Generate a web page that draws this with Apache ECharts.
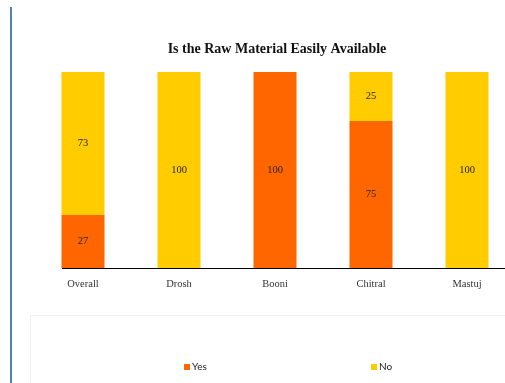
<!DOCTYPE html>
<html>
<head>
<meta charset="utf-8">
<script src="https://cdn.jsdelivr.net/npm/echarts@6/dist/echarts.min.js"></script>
<style>html,body{margin:0;padding:0;background:#fff;}#c{width:505px;height:383px;}</style>
</head>
<body>
<div id="c"></div>
<script>
const categories = ['Overall', 'Drosh', 'Booni', 'Chitral', 'Mastuj'];
const yesValues = [27, 0, 100, 75, 0];
const noValues = [73, 100, 0, 25, 100];
const titleText = 'Is the Raw Material Easily Available';

const chart = echarts.init(document.getElementById('c'), null, {renderer: 'canvas'});
const serif = '"Liberation Serif", "DejaVu Serif", serif';
const lbl = {
  show: true, position: 'inside', color: '#222', fontFamily: serif, fontSize: 10.5,
  formatter: p => p.value > 0 ? p.value : ''
};
chart.setOption({
  animation: false,
  backgroundColor: '#fff',
  title: {
    text: titleText, left: 272, textAlign: 'center', top: 37,
    textStyle: {fontFamily: serif, fontSize: 14, fontWeight: 'bold', color: '#111'}
  },
  graphic: [
    {type: 'rect', shape: {x: 30.5, y: 315.5, width: 490, height: 80}, style: {fill: '#fff', stroke: '#f0f0f0', lineWidth: 1}, z: -1},
    {type: 'line', shape: {x1: 11, y1: 7, x2: 11, y2: 383}, style: {stroke: '#4f81bd', lineWidth: 2}},
    {type: 'line', shape: {x1: 62, y1: 268.5, x2: 505, y2: 268.5}, style: {stroke: '#000', lineWidth: 1.2}}
  ],
  legend: [
    {data: ['Yes'], left: 179, top: 357, itemWidth: 6, itemHeight: 6, icon: 'rect',
     textStyle: {fontFamily: 'Lato, "Liberation Sans", sans-serif', fontSize: 10, color: '#222', padding: [0, 0, 0, -3]}},
    {data: ['No'], left: 366, top: 357, itemWidth: 6, itemHeight: 6, icon: 'rect',
     textStyle: {fontFamily: 'Lato, "Liberation Sans", sans-serif', fontSize: 10, color: '#222', padding: [0, 0, 0, -3]}}
  ],
  grid: {left: 35, width: 480, top: 72, height: 196, containLabel: false, outerBoundsMode: 'none'},
  xAxis: {
    type: 'category', data: categories,
    axisLine: {show: false}, axisTick: {show: false},
    axisLabel: {fontFamily: serif, fontSize: 10.5, color: '#333', margin: 11}
  },
  yAxis: {type: 'value', min: 0, max: 100, show: false, splitLine: {show: false}},
  series: [
    {name: 'Yes', type: 'bar', stack: 's', data: yesValues, barWidth: 43,
     itemStyle: {color: '#ff6600'}, label: lbl},
    {name: 'No', type: 'bar', stack: 's', data: noValues, barWidth: 43,
     itemStyle: {color: '#ffcc00'}, label: lbl}
  ]
});
</script>
</body>
</html>
